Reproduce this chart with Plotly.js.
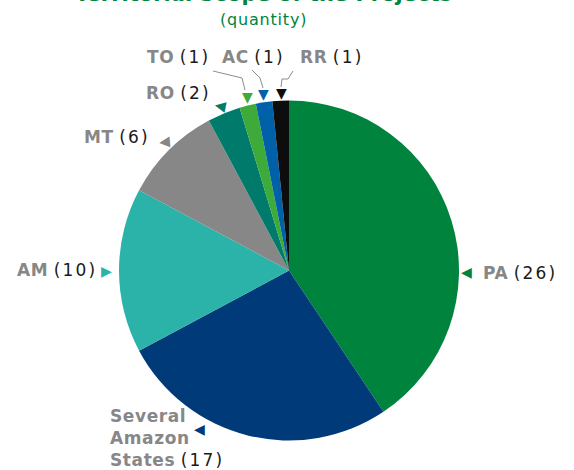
<!DOCTYPE html>
<html>
<head>
<meta charset="utf-8">
<script src="https://cdn.plot.ly/plotly-3.0.1.min.js"></script>
<style>html,body{margin:0;padding:0;background:#fff}#chart{width:574px;height:470px}</style>
</head>
<body>
<div id="chart"></div>
<script>
// ---- data ----
const categories = ['PA', 'Several Amazon States', 'AM', 'MT', 'RO', 'TO', 'AC', 'RR'];
const labelLines = ['PA', 'Several<br>Amazon<br>States', 'AM', 'MT', 'RO', 'TO', 'AC', 'RR'];
const quantities = [26, 17, 10, 6, 2, 1, 1, 1];
const sliceColors = ['#00843D', '#003A78', '#2BB3AA', '#878787', '#007A6A', '#3DAA3A', '#0060A8', '#0D0D0D'];
const titleText = 'Territorial Scope of the Projects';
const subtitleText = '(quantity)';

// ---- layout helpers (pixel -> paper) ----
const W = 574, H = 470;
const px = x => x / W;
const py = y => 1 - y / H;

// label placement (layout only): [x, y, xanchor]
const labelPos = [
  [481, 273, 'left'],
  [108, 438, 'left'],
  [99, 270, 'right'],
  [152, 137, 'right'],
  [213, 93, 'right'],
  [212, 57, 'right'],
  [287, 57, 'right'],
  [298, 57, 'left']
];
// marker triangles: [x, y, glyph, angle]
const triPos = [
  [466, 272, '\u25C0', 0],
  [199, 429, '\u25C0', 0],
  [106, 271, '\u25B6', 0],
  [164, 141, '\u25C0', -5],
  [220, 105, '\u25C0', 11],
  [247, 97, '\u25BC', 0],
  [263, 94, '\u25BC', 0],
  [281, 93, '\u25BC', 0]
];
const leaderPaths = [
  [[213, 71], [242, 78], [245, 90]],
  [[252, 70], [260, 78], [263, 88]],
  [[293, 71], [288, 79], [282, 79], [281, 87]]
];

const annotations = [];
categories.forEach((c, i) => {
  const [x, y, xa] = labelPos[i];
  const bold = labelLines[i].split('<br>').map(s => '<b>' + s + '</b>').join('<br>');
  annotations.push({
    xref: 'paper', yref: 'paper', x: px(x), y: py(y), xanchor: xa, yanchor: 'middle',
    align: 'left', showarrow: false,
    text: '<span style="color:#878787;letter-spacing:0.6px">' + bold + '</span> <span style="letter-spacing:2.2px">(' + quantities[i] + ')</span>',
    font: {family: 'DejaVu Sans', size: 17, color: '#1a1a1a'}
  });
  const [tx, ty, g, ang] = triPos[i];
  annotations.push({
    xref: 'paper', yref: 'paper', x: px(tx), y: py(ty), xanchor: 'center', yanchor: 'middle',
    showarrow: false, text: g, textangle: ang,
    font: {family: 'DejaVu Sans', size: 14, color: sliceColors[i]}
  });
});
annotations.push({
  xref: 'paper', yref: 'paper', x: px(263), y: py(-6), xanchor: 'center', yanchor: 'middle',
  showarrow: false, text: '<b>' + titleText + '</b>',
  font: {family: 'DejaVu Sans', size: 21, color: '#00843D'}
});
annotations.push({
  xref: 'paper', yref: 'paper', x: px(263), y: py(19), xanchor: 'center', yanchor: 'middle',
  showarrow: false, text: '<span style="letter-spacing:0.8px">' + subtitleText + '</span>',
  font: {family: 'DejaVu Sans', size: 16, color: '#00843D'}
});

const shapes = leaderPaths.map(pts => ({
  type: 'path', xref: 'paper', yref: 'paper',
  path: pts.map((p, k) => (k ? 'L' : 'M') + px(p[0]) + ',' + py(p[1])).join(' '),
  line: {color: '#8c8c8c', width: 1}
}));

const R = 170, cx = 289, cy = 270.5;
const data = [{
  type: 'pie',
  labels: categories,
  values: quantities,
  marker: {colors: sliceColors, line: {width: 0}},
  sort: false,
  direction: 'clockwise',
  rotation: 0,
  textinfo: 'none',
  hoverinfo: 'label+value',
  showlegend: false,
  domain: {x: [px(cx - R), px(cx + R)], y: [py(cy + R), py(cy - R)]}
}];

const layout = {
  width: W, height: H,
  margin: {l: 0, r: 0, t: 0, b: 0},
  paper_bgcolor: '#ffffff',
  showlegend: false,
  annotations: annotations,
  shapes: shapes
};

Plotly.newPlot('chart', data, layout, {displayModeBar: false, staticPlot: true});
</script>
</body>
</html>
